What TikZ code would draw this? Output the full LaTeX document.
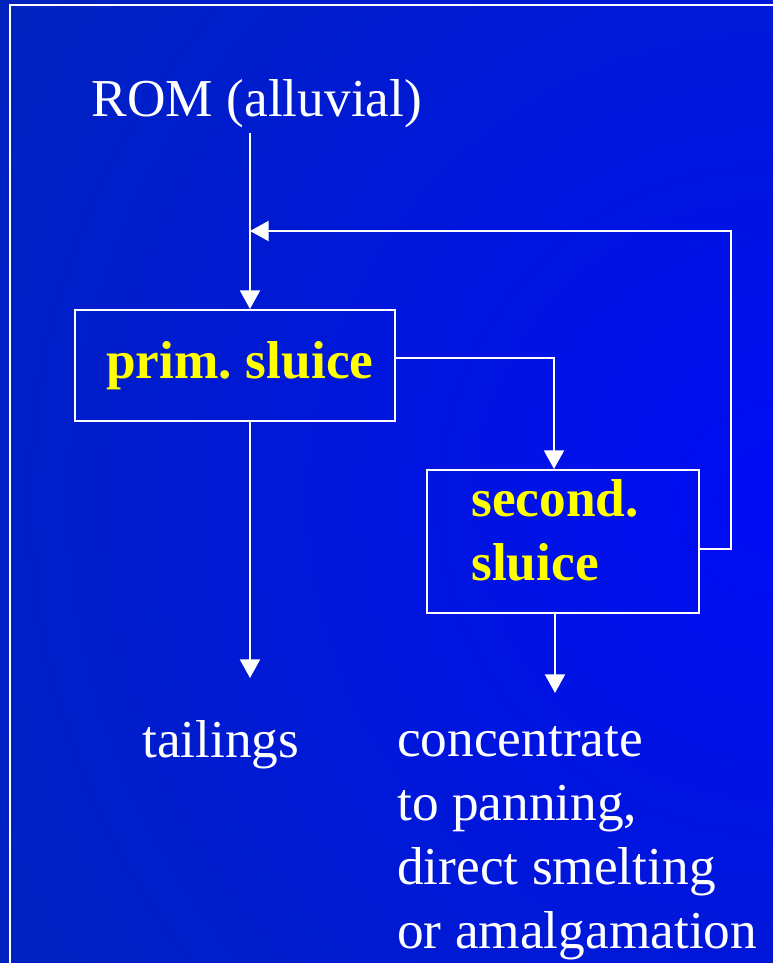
\documentclass[tikz,border=0pt]{standalone}
\usepackage{fontspec}
\setmainfont{Liberation Serif}
\usepackage{tikz}
\usetikzlibrary{arrows.meta}

\definecolor{sombre}{RGB}{0,48,158}
\definecolor{vif}{RGB}{0,12,245}
\definecolor{jaune}{RGB}{255,255,0}

\begin{document}
\begin{tikzpicture}[
    x=0.75pt, y=-0.75pt,
    font=\fontsize{40}{48}\selectfont,
    every node/.style={inner sep=0pt, text=white},
    boite/.style={draw=white, line width=1.5pt, text=jaune, font=\fontsize{40}{48}\selectfont\bfseries, align=left},
    fil/.style={draw=white, line width=1.5pt, -{Triangle[width=15pt,length=14pt]}},
  ]
  \useasboundingbox (0,0) rectangle (773,963);
  % fond bleu degrade
  \begin{scope}
    \clip (0,0) rectangle (773,963);
    \shade[inner color=vif, outer color=sombre] (773,500) circle[radius=1450];
  \end{scope}
  \draw[white, line width=1.5pt] (10,975) -- (10,5) -- (790,5);

  \node[anchor=base] (rom) at (257,117) {ROM (alluvial)};
  \node[boite, minimum width=240pt, minimum height=83.25pt] (prim) at (234.5,365.5) {\hspace{8pt}prim.\hspace{-3pt} sluice};
  \node[boite, minimum width=204pt, minimum height=107.25pt, text depth=17pt] (second) at (563,541.5) {second.\hspace*{12pt}\\sluice};
  \node[anchor=base west] (tailings) at (142,757) {tailings};
  \node[anchor=base west, align=left] (concentrate) at (397,948)
    {concentrate\\to panning,\\direct smelting\\or amalgamation};

  \coordinate (feed) at (250,231);   % retour vers le premier sluice
  \coordinate (retour) at (731,549);
  \coordinate (split) at (554,358);
  \coordinate (fin1) at (250,678);
  \coordinate (fin2) at (555,693);

  \draw[fil, shorten <=3pt] (rom.south -| feed) -- (prim.north -| feed);
  \draw[fil] (second.east |- retour) -- (retour) |- (feed);
  \draw[fil] (prim.east |- split) -| (second.north -| split);
  \draw[fil] (prim.south -| fin1) -- (fin1);
  \draw[fil] (second.south -| fin2) -- (fin2);
\end{tikzpicture}
\end{document}
